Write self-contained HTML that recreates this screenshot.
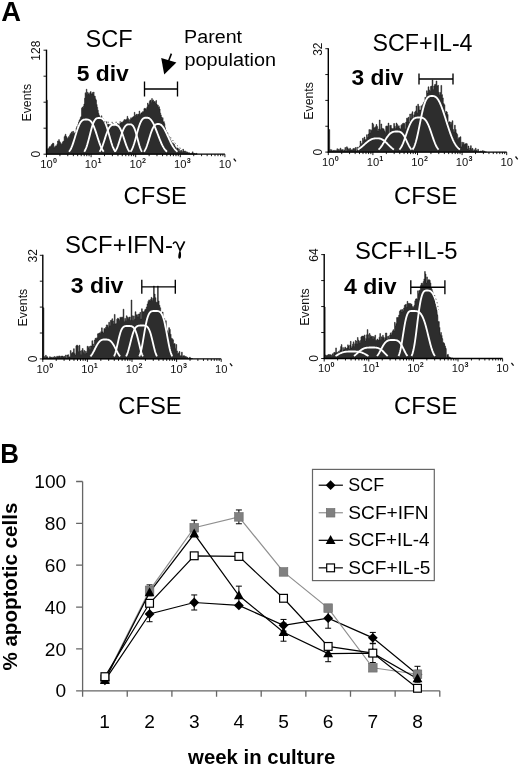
<!DOCTYPE html>
<html><head><meta charset="utf-8"><style>
html,body{margin:0;padding:0;background:#fff;}
svg{display:block;filter:blur(0.4px);}
</style></head><body>
<svg width="520" height="766" viewBox="0 0 520 766" font-family='"Liberation Sans", sans-serif'>
<rect width="520" height="766" fill="#fff"/>
<text x="1.21" y="20.6" font-size="27.5" font-weight="bold" textLength="19.76" lengthAdjust="spacingAndGlyphs">A</text>
<text x="0.13" y="462.7" font-size="27.5" font-weight="bold" textLength="18.72" lengthAdjust="spacingAndGlyphs">B</text>
<path d="M46.7,154.2L46.7,100.2L47.3,100.2L47.3,148.84L47.9,148.84L47.9,148.91L48.5,148.91L48.5,148.31L49.1,148.31L49.1,146.79L49.7,146.79L49.7,146.87L50.3,146.87L50.3,146.52L50.9,146.52L50.9,145.44L51.5,145.44L51.5,144.61L52.1,144.61L52.1,144.03L52.7,144.03L52.7,143L53.3,143L53.3,143.58L53.9,143.58L53.9,148.1L54.5,148.1L54.5,146.83L55.1,146.83L55.1,146.46L55.7,146.46L55.7,145.71L56.3,145.71L56.3,145.88L56.9,145.88L56.9,144.33L57.5,144.33L57.5,140.99L58.1,140.99L58.1,141.31L58.7,141.31L58.7,139.6L59.3,139.6L59.3,141.26L59.9,141.26L59.9,142.36L60.5,142.36L60.5,143.54L61.1,143.54L61.1,144.16L61.7,144.16L61.7,143.77L62.3,143.77L62.3,142.2L62.9,142.2L62.9,141.39L63.5,141.39L63.5,141.1L64.1,141.1L64.1,136.67L64.7,136.67L64.7,135.81L65.3,135.81L65.3,134.2L65.9,134.2L65.9,136.37L66.5,136.37L66.5,137.36L67.1,137.36L67.1,138.45L67.7,138.45L67.7,138.25L68.3,138.25L68.3,136.66L68.9,136.66L68.9,137.18L69.5,137.18L69.5,135.18L70.1,135.18L70.1,133.67L70.7,133.67L70.7,133.48L71.3,133.48L71.3,131.92L71.9,131.92L71.9,133.42L72.5,133.42L72.5,131.45L73.1,131.45L73.1,131.37L73.7,131.37L73.7,133.22L74.3,133.22L74.3,133.23L74.9,133.23L74.9,132.6L75.5,132.6L75.5,132.45L76.1,132.45L76.1,128.1L76.7,128.1L76.7,126.61L77.3,126.61L77.3,127.6L77.9,127.6L77.9,124.26L78.5,124.26L78.5,122.04L79.1,122.04L79.1,120.29L79.7,120.29L79.7,119.55L80.3,119.55L80.3,117.58L80.9,117.58L80.9,116.57L81.5,116.57L81.5,108.3L82.1,108.3L82.1,107.08L82.7,107.08L82.7,108.23L83.3,108.23L83.3,106.11L83.9,106.11L83.9,104L84.5,104L84.5,98.21L85.1,98.21L85.1,92.74L85.7,92.74L85.7,93.79L86.3,93.79L86.3,89.2L86.9,89.2L86.9,94.57L87.5,94.57L87.5,92.21L88.1,92.21L88.1,93.93L88.7,93.93L88.7,93.39L89.3,93.39L89.3,94.47L89.9,94.47L89.9,92.34L90.5,92.34L90.5,91.57L91.1,91.57L91.1,93.74L91.7,93.74L91.7,93.71L92.3,93.71L92.3,92.55L92.9,92.55L92.9,94.34L93.5,94.34L93.5,92L94.1,92L94.1,95.93L94.7,95.93L94.7,96.27L95.3,96.27L95.3,98.79L95.9,98.79L95.9,100.21L96.5,100.21L96.5,104.5L97.1,104.5L97.1,107.34L97.7,107.34L97.7,110.22L98.3,110.22L98.3,113.25L98.9,113.25L98.9,115.14L99.5,115.14L99.5,116.51L100.1,116.51L100.1,118.9L100.7,118.9L100.7,117.41L101.3,117.41L101.3,115.78L101.9,115.78L101.9,120.09L102.5,120.09L102.5,118.45L103.1,118.45L103.1,119.43L103.7,119.43L103.7,121.67L104.3,121.67L104.3,121.81L104.9,121.81L104.9,121.79L105.5,121.79L105.5,123.42L106.1,123.42L106.1,121.74L106.7,121.74L106.7,124.19L107.3,124.19L107.3,125.5L107.9,125.5L107.9,124.29L108.5,124.29L108.5,124.3L109.1,124.3L109.1,126.47L109.7,126.47L109.7,124.45L110.3,124.45L110.3,125.46L110.9,125.46L110.9,126.6L111.5,126.6L111.5,125.91L112.1,125.91L112.1,125.83L112.7,125.83L112.7,123.63L113.3,123.63L113.3,126.52L113.9,126.52L113.9,124.91L114.5,124.91L114.5,126.51L115.1,126.51L115.1,125.15L115.7,125.15L115.7,125.19L116.3,125.19L116.3,126.85L116.9,126.85L116.9,126.22L117.5,126.22L117.5,123.52L118.1,123.52L118.1,124.3L118.7,124.3L118.7,124.14L119.3,124.14L119.3,125.38L119.9,125.38L119.9,122.71L120.5,122.71L120.5,123.2L121.1,123.2L121.1,122.59L121.7,122.59L121.7,121.94L122.3,121.94L122.3,122.46L122.9,122.46L122.9,121.55L123.5,121.55L123.5,120.68L124.1,120.68L124.1,119.51L124.7,119.51L124.7,120.24L125.3,120.24L125.3,119.81L125.9,119.81L125.9,119.66L126.5,119.66L126.5,118.93L127.1,118.93L127.1,116.3L127.7,116.3L127.7,118.23L128.3,118.23L128.3,119.13L128.9,119.13L128.9,121.63L129.5,121.63L129.5,119.68L130.1,119.68L130.1,119.44L130.7,119.44L130.7,117.81L131.3,117.81L131.3,119.08L131.9,119.08L131.9,117.69L132.5,117.69L132.5,117.16L133.1,117.16L133.1,116.78L133.7,116.78L133.7,116.34L134.3,116.34L134.3,112.3L134.9,112.3L134.9,114.95L135.5,114.95L135.5,116.14L136.1,116.14L136.1,114.41L136.7,114.41L136.7,114.05L137.3,114.05L137.3,115.45L137.9,115.45L137.9,114.62L138.5,114.62L138.5,114.08L139.1,114.08L139.1,111L139.7,111L139.7,114.13L140.3,114.13L140.3,114.27L140.9,114.27L140.9,112.85L141.5,112.85L141.5,113.08L142.1,113.08L142.1,112.27L142.7,112.27L142.7,111.48L143.3,111.48L143.3,111.74L143.9,111.74L143.9,108.66L144.5,108.66L144.5,108.29L145.1,108.29L145.1,109.12L145.7,109.12L145.7,108.38L146.3,108.38L146.3,109.13L146.9,109.13L146.9,106.82L147.5,106.82L147.5,103.07L148.1,103.07L148.1,105.01L148.7,105.01L148.7,104.55L149.3,104.55L149.3,101.41L149.9,101.41L149.9,100.29L150.5,100.29L150.5,100.28L151.1,100.28L151.1,102.24L151.7,102.24L151.7,98.5L152.3,98.5L152.3,100.79L152.9,100.79L152.9,99.95L153.5,99.95L153.5,101.86L154.1,101.86L154.1,101.54L154.7,101.54L154.7,101.51L155.3,101.51L155.3,102.89L155.9,102.89L155.9,100.44L156.5,100.44L156.5,103.99L157.1,103.99L157.1,105.41L157.7,105.41L157.7,105.09L158.3,105.09L158.3,107.37L158.9,107.37L158.9,106.76L159.5,106.76L159.5,109L160.1,109L160.1,113.01L160.7,113.01L160.7,114.99L161.3,114.99L161.3,117.11L161.9,117.11L161.9,119.34L162.5,119.34L162.5,117.71L163.1,117.71L163.1,122.1L163.7,122.1L163.7,121.63L164.3,121.63L164.3,123.6L164.9,123.6L164.9,127.65L165.5,127.65L165.5,130.01L166.1,130.01L166.1,132.36L166.7,132.36L166.7,133.18L167.3,133.18L167.3,132.8L167.9,132.8L167.9,137.36L168.5,137.36L168.5,136.1L169.1,136.1L169.1,137.93L169.7,137.93L169.7,138.78L170.3,138.78L170.3,140.29L170.9,140.29L170.9,141.22L171.5,141.22L171.5,142.37L172.1,142.37L172.1,143.75L172.7,143.75L172.7,142.93L173.3,142.93L173.3,144.29L173.9,144.29L173.9,144.34L174.5,144.34L174.5,145.66L175.1,145.66L175.1,146.97L175.7,146.97L175.7,147.74L176.3,147.74L176.3,150.4L176.9,150.4L176.9,148.17L177.5,148.17L177.5,147.95L178.1,147.95L178.1,150.89L178.7,150.89L178.7,148.83L179.3,148.83L179.3,151.28L179.9,151.28L179.9,151.99L180.5,151.99L180.5,150.6L181.1,150.6L181.1,150.35L181.7,150.35L181.7,151.42L182.3,151.42L182.3,152.31L182.9,152.31L182.9,149.24L183.5,149.24L183.5,151.28L184.1,151.28L184.1,151.28L184.7,151.28L184.7,151.11L185.3,151.11L185.3,151.4L185.9,151.4L185.9,153.04L186.5,153.04L186.5,151.87L187.1,151.87L187.1,152.08L187.7,152.08L187.7,152.8L188.3,152.8L188.3,152.82L188.9,152.82L188.9,152.67L189.5,152.67L189.5,153.2L190.1,153.2L190.1,154L190.7,154L190.7,153.34L191.3,153.34L191.3,153.61L191.9,153.61L191.9,152.66L192.5,152.66L192.5,151.77L193.1,151.77L193.1,154L193.7,154L193.7,153.35L194.3,153.35L194.3,153.55L194.9,153.55L194.9,153.78L195.5,153.78L195.5,153.96L196.1,153.96L196.1,153.27L196.7,153.27L196.7,154L197.3,154L197,154.2 Z" fill="#2d2d2d" stroke="#151515" stroke-width="0.5"/>
<path d="M69,151.7 L69.5,151.06 L70.01,150.31 L70.51,149.45 L71.02,148.47 L71.52,147.37 L72.03,146.15 L72.53,144.82 L73.03,143.4 L73.54,141.89 L74.04,140.3 L74.55,138.67 L75.05,137.01 L75.56,135.34 L76.06,133.69 L76.57,132.07 L77.07,130.5 L77.57,129.01 L78.08,127.61 L78.58,126.31 L79.09,125.13 L79.59,124.06 L80.1,123.12 L80.6,122.31 L81.1,121.61 L81.61,121.04 L82.11,120.57 L82.62,120.21 L83.12,119.94 L83.63,119.75 L84.13,119.62 L84.63,119.55 L85.14,119.51 L85.64,119.5 L86.15,119.5 L86.65,119.5 L87.16,119.53 L87.66,119.57 L88.17,119.66 L88.67,119.81 L89.17,120.01 L89.68,120.3 L90.18,120.66 L90.69,121.13 L91.19,121.69 L91.7,122.37 L92.2,123.15 L92.7,124.05 L93.21,125.06 L93.71,126.19 L94.22,127.41 L94.72,128.74 L95.23,130.14 L95.73,131.62 L96.23,133.15 L96.74,134.73 L97.24,136.32 L97.75,137.91 L98.25,139.48 L98.76,141.02 L99.26,142.51 L99.77,143.92 L100.27,145.25 L100.77,146.49 L101.28,147.62 L101.78,148.65 L102.29,149.57 L102.79,150.39 L103.3,151.09 L103.8,151.7" fill="none" stroke="#fff" stroke-width="1.85"/>
<path d="M84.2,151.7 L84.7,150.95 L85.21,150.04 L85.71,148.97 L86.21,147.74 L86.72,146.35 L87.22,144.8 L87.72,143.1 L88.23,141.29 L88.73,139.38 L89.23,137.41 L89.74,135.41 L90.24,133.41 L90.74,131.45 L91.25,129.56 L91.75,127.77 L92.25,126.1 L92.75,124.59 L93.26,123.23 L93.76,122.05 L94.26,121.03 L94.77,120.19 L95.27,119.52 L95.77,118.99 L96.28,118.6 L96.78,118.32 L97.28,118.15 L97.79,118.05 L98.29,118.01 L98.79,118 L99.3,118 L99.8,118.01 L100.3,118.05 L100.81,118.13 L101.31,118.27 L101.81,118.48 L102.32,118.79 L102.82,119.2 L103.32,119.73 L103.83,120.38 L104.33,121.17 L104.83,122.1 L105.34,123.17 L105.84,124.38 L106.34,125.72 L106.85,127.18 L107.35,128.76 L107.85,130.42 L108.35,132.16 L108.86,133.94 L109.36,135.75 L109.86,137.56 L110.37,139.34 L110.87,141.06 L111.37,142.72 L111.88,144.27 L112.38,145.72 L112.88,147.05 L113.39,148.24 L113.89,149.3 L114.39,150.23 L114.9,151.03 L115.4,151.7" fill="none" stroke="#fff" stroke-width="1.85"/>
<path d="M99.5,151.7 L100,151.02 L100.5,150.23 L101,149.3 L101.5,148.26 L102,147.1 L102.5,145.82 L103,144.45 L103.5,143 L104,141.48 L104.5,139.93 L105,138.37 L105.5,136.81 L106,135.3 L106.5,133.84 L107,132.46 L107.5,131.18 L108,130.02 L108.5,128.97 L109,128.05 L109.5,127.27 L110,126.61 L110.5,126.07 L111,125.65 L111.5,125.33 L112,125.1 L112.5,124.95 L113,124.86 L113.5,124.82 L114,124.8 L114.5,124.8 L115,124.8 L115.5,124.83 L116,124.89 L116.5,124.99 L117,125.17 L117.5,125.42 L118,125.77 L118.5,126.22 L119,126.78 L119.5,127.46 L120,128.27 L120.5,129.21 L121,130.27 L121.5,131.45 L122,132.73 L122.5,134.1 L123,135.55 L123.5,137.06 L124,138.59 L124.5,140.14 L125,141.67 L125.5,143.16 L126,144.58 L126.5,145.93 L127,147.18 L127.5,148.32 L128,149.34 L128.5,150.25 L129,151.03 L129.5,151.7" fill="none" stroke="#fff" stroke-width="1.85"/>
<path d="M115,151.7 L115.5,151 L116,150.16 L116.5,149.2 L117,148.1 L117.5,146.88 L118,145.53 L118.5,144.08 L119,142.55 L119.5,140.95 L120,139.32 L120.5,137.68 L121,136.06 L121.5,134.49 L122,132.99 L122.5,131.58 L123,130.29 L123.5,129.12 L124,128.09 L124.5,127.19 L125,126.44 L125.5,125.82 L126,125.33 L126.5,124.95 L127,124.68 L127.5,124.49 L128,124.38 L128.5,124.32 L129,124.3 L129.5,124.3 L130,124.3 L130.5,124.34 L131,124.43 L131.5,124.6 L132,124.89 L132.5,125.31 L133,125.89 L133.5,126.64 L134,127.57 L134.5,128.69 L135,130 L135.5,131.48 L136,133.11 L136.5,134.86 L137,136.71 L137.5,138.6 L138,140.5 L138.5,142.36 L139,144.14 L139.5,145.81 L140,147.33 L140.5,148.69 L141,149.87 L141.5,150.87 L142,151.7" fill="none" stroke="#fff" stroke-width="1.85"/>
<path d="M130.5,151.7 L131,151.01 L131.5,150.19 L132,149.24 L132.5,148.14 L133,146.91 L133.5,145.54 L134,144.04 L134.5,142.42 L135,140.71 L135.5,138.93 L136,137.09 L136.5,135.23 L137,133.38 L137.5,131.55 L138,129.78 L138.5,128.09 L139,126.51 L139.5,125.04 L140,123.71 L140.5,122.51 L141,121.47 L141.5,120.57 L142,119.81 L142.5,119.2 L143,118.71 L143.5,118.34 L144,118.07 L144.5,117.89 L145,117.78 L145.5,117.72 L146,117.7 L146.5,117.7 L147,117.71 L147.5,117.75 L148,117.84 L148.5,117.99 L149,118.2 L149.5,118.49 L150,118.86 L150.5,119.31 L151,119.84 L151.5,120.46 L152,121.17 L152.5,121.96 L153,122.84 L153.5,123.79 L154,124.82 L154.5,125.92 L155,127.07 L155.5,128.28 L156,129.54 L156.5,130.82 L157,132.14 L157.5,133.46 L158,134.8 L158.5,136.13 L159,137.44 L159.5,138.73 L160,139.99 L160.5,141.21 L161,142.39 L161.5,143.51 L162,144.57 L162.5,145.58 L163,146.52 L163.5,147.39 L164,148.2 L164.5,148.94 L165,149.61 L165.5,150.22 L166,150.77 L166.5,151.26 L167,151.7" fill="none" stroke="#fff" stroke-width="1.85"/>
<path d="M144,151.7 L144.5,150.99 L145,150.16 L145.5,149.19 L146,148.08 L146.5,146.84 L147,145.49 L147.5,144.02 L148,142.47 L148.5,140.86 L149,139.21 L149.5,137.56 L150,135.92 L150.5,134.33 L151,132.81 L151.5,131.38 L152,130.07 L152.5,128.89 L153,127.84 L153.5,126.93 L154,126.17 L154.5,125.54 L155,125.04 L155.5,124.66 L156,124.38 L156.5,124.2 L157,124.08 L157.5,124.02 L158,124 L158.5,124 L159,124.03 L159.5,124.12 L160,124.28 L160.5,124.53 L161,124.86 L161.5,125.27 L162,125.77 L162.5,126.35 L163,127 L163.5,127.74 L164,128.54 L164.5,129.41 L165,130.33 L165.5,131.31 L166,132.32 L166.5,133.37 L167,134.45 L167.5,135.54 L168,136.64 L168.5,137.74 L169,138.84 L169.5,139.92 L170,140.97 L170.5,142 L171,143 L171.5,143.96 L172,144.87 L172.5,145.74 L173,146.56 L173.5,147.33 L174,148.05 L174.5,148.72 L175,149.34 L175.5,149.91 L176,150.42 L176.5,150.89 L177,151.32 L177.5,151.7" fill="none" stroke="#fff" stroke-width="1.85"/>
<line x1="46.5" y1="49.7" x2="46.5" y2="154.8" stroke="#000" stroke-width="1.4"/>
<path d="M43.5,154.2 H46.5 M43.5,128.2 H46.5 M43.5,102.2 H46.5 M43.5,76.2 H46.5 M43.5,50.2 H46.5 M46.5,154.2 v3 M59.93,154.2 v2 M67.78,154.2 v2 M73.35,154.2 v2 M77.67,154.2 v2 M81.21,154.2 v2 M84.19,154.2 v2 M86.78,154.2 v2 M89.06,154.2 v2 M91.1,154.2 v3 M104.53,154.2 v2 M112.38,154.2 v2 M117.95,154.2 v2 M122.27,154.2 v2 M125.81,154.2 v2 M128.79,154.2 v2 M131.38,154.2 v2 M133.66,154.2 v2 M135.7,154.2 v3 M149.13,154.2 v2 M156.98,154.2 v2 M162.55,154.2 v2 M166.87,154.2 v2 M170.41,154.2 v2 M173.39,154.2 v2 M175.98,154.2 v2 M178.26,154.2 v2 M180.3,154.2 v3 M193.73,154.2 v2 M201.58,154.2 v2 M207.15,154.2 v2 M211.47,154.2 v2 M215.01,154.2 v2 M217.99,154.2 v2 M220.58,154.2 v2 M222.86,154.2 v2 M224.9,154.2 v3" stroke="#000" stroke-width="0.9" fill="none"/>
<line x1="45.9" y1="154.2" x2="224.9" y2="154.2" stroke="#000" stroke-width="1.3"/>
<text x="46.5" y="167.8" font-size="11.2" text-anchor="middle" fill="#111">10</text>
<text x="52.9" y="163.1" font-size="7.2" font-weight="bold" fill="#111">0</text>
<text x="91.1" y="167.8" font-size="11.2" text-anchor="middle" fill="#111">10</text>
<text x="97.5" y="163.1" font-size="7.2" font-weight="bold" fill="#111">1</text>
<text x="135.7" y="167.8" font-size="11.2" text-anchor="middle" fill="#111">10</text>
<text x="142.1" y="163.1" font-size="7.2" font-weight="bold" fill="#111">2</text>
<text x="180.3" y="167.8" font-size="11.2" text-anchor="middle" fill="#111">10</text>
<text x="186.7" y="163.1" font-size="7.2" font-weight="bold" fill="#111">3</text>
<text x="224.9" y="167.8" font-size="11.2" text-anchor="middle" fill="#111">10</text>
<path d="M233.7,158.6 l2.2,2.8" stroke="#111" stroke-width="1.3" fill="none"/>
<text transform="translate(40.3,50.7) rotate(-90)" font-size="12" text-anchor="middle" fill="#111">128</text>
<text transform="translate(40.3,154.2) rotate(-90)" font-size="12" text-anchor="middle" fill="#111">0</text>
<text transform="translate(31,102.7) rotate(-90)" font-size="12.3" text-anchor="middle" fill="#111">Events</text>
<path d="M144.5,81.5 V96.5 M177.5,81.5 V96.5 M144.5,89 H177.5" stroke="#000" stroke-width="1.35" fill="none"/>
<path d="M103.5,121.8 L108,122.2 L113,122.4 L118,122.2 L121,121.6" fill="none" stroke="#444" stroke-width="0.85" stroke-dasharray="1.4,2.6"/>
<path d="M170.5,137.2 L173.5,141.3 L176.5,144.8 L179.5,147.6 L182.5,149.6 L186,151" fill="none" stroke="#444" stroke-width="0.85" stroke-dasharray="1.2,2.3"/>
<text x="85.63" y="46.5" font-size="23" textLength="47.05" lengthAdjust="spacingAndGlyphs">SCF</text>
<text x="76.71" y="80.8" font-size="22.5" font-weight="bold" textLength="52.08" lengthAdjust="spacingAndGlyphs">5 div</text>
<text x="123.54" y="204.3" font-size="23" textLength="63.41" lengthAdjust="spacingAndGlyphs">CFSE</text>
<path d="M328.9,152.1L328.9,129.6L329.7,129.6L329.7,149.41L330.5,149.41L330.5,150.41L331.3,150.41L331.3,149.75L332.1,149.75L332.1,151.1L332.9,151.1L332.9,150.58L333.7,150.58L333.7,150.31L334.5,150.31L334.5,150.76L335.3,150.76L335.3,150.43L336.1,150.43L336.1,150.45L336.9,150.45L336.9,148.71L337.7,148.71L337.7,150.16L338.5,150.16L338.5,149.32L339.3,149.32L339.3,150.58L340.1,150.58L340.1,148.13L340.9,148.13L340.9,149.79L341.7,149.79L341.7,149.8L342.5,149.8L342.5,149.62L343.3,149.62L343.3,151.02L344.1,151.02L344.1,149.99L344.9,149.99L344.9,147.5L345.7,147.5L345.7,150.94L346.5,150.94L346.5,146.8L347.3,146.8L347.3,147.89L348.1,147.89L348.1,149.28L348.9,149.28L348.9,149.19L349.7,149.19L349.7,148.28L350.5,148.28L350.5,150.07L351.3,150.07L351.3,149.78L352.1,149.78L352.1,149.7L352.9,149.7L352.9,148.54L353.7,148.54L353.7,148.38L354.5,148.38L354.5,149.58L355.3,149.58L355.3,147.49L356.1,147.49L356.1,150.99L356.9,150.99L356.9,147.26L357.7,147.26L357.7,148.64L358.5,148.64L358.5,147.57L359.3,147.57L359.3,145.98L360.1,145.98L360.1,141.09L360.9,141.09L360.9,144.35L361.7,144.35L361.7,143.17L362.5,143.17L362.5,138.27L363.3,138.27L363.3,140.13L364.1,140.13L364.1,137.06L364.9,137.06L364.9,139.77L365.7,139.77L365.7,139.48L366.5,139.48L366.5,134.73L367.3,134.73L367.3,137.29L368.1,137.29L368.1,134.09L368.9,134.09L368.9,129.58L369.7,129.58L369.7,132.99L370.5,132.99L370.5,129.75L371.3,129.75L371.3,130.49L372.1,130.49L372.1,123L372.9,123L372.9,124.42L373.7,124.42L373.7,127.64L374.5,127.64L374.5,127.57L375.3,127.57L375.3,126.67L376.1,126.67L376.1,124.49L376.9,124.49L376.9,126.59L377.7,126.59L377.7,131.03L378.5,131.03L378.5,129.05L379.3,129.05L379.3,120L380.1,120L380.1,129.61L380.9,129.61L380.9,123.96L381.7,123.96L381.7,128.16L382.5,128.16L382.5,128.75L383.3,128.75L383.3,128.85L384.1,128.85L384.1,130.82L384.9,130.82L384.9,132.17L385.7,132.17L385.7,126.28L386.5,126.28L386.5,125.91L387.3,125.91L387.3,126.26L388.1,126.26L388.1,123.1L388.9,123.1L388.9,134.35L389.7,134.35L389.7,125.54L390.5,125.54L390.5,125.31L391.3,125.31L391.3,128.24L392.1,128.24L392.1,128.74L392.9,128.74L392.9,128.56L393.7,128.56L393.7,123.48L394.5,123.48L394.5,126.22L395.3,126.22L395.3,128.28L396.1,128.28L396.1,123.02L396.9,123.02L396.9,124.51L397.7,124.51L397.7,126.42L398.5,126.42L398.5,125.83L399.3,125.83L399.3,128.36L400.1,128.36L400.1,129.08L400.9,129.08L400.9,125.13L401.7,125.13L401.7,124.39L402.5,124.39L402.5,123.53L403.3,123.53L403.3,123.15L404.1,123.15L404.1,123.39L404.9,123.39L404.9,128.8L405.7,128.8L405.7,122.04L406.5,122.04L406.5,118.2L407.3,118.2L407.3,118.27L408.1,118.27L408.1,117.23L408.9,117.23L408.9,122.37L409.7,122.37L409.7,114L410.5,114L410.5,118.62L411.3,118.62L411.3,113.83L412.1,113.83L412.1,111.72L412.9,111.72L412.9,118.46L413.7,118.46L413.7,114.85L414.5,114.85L414.5,112.24L415.3,112.24L415.3,111.03L416.1,111.03L416.1,105.97L416.9,105.97L416.9,112.7L417.7,112.7L417.7,104.2L418.5,104.2L418.5,106.28L419.3,106.28L419.3,109.88L420.1,109.88L420.1,110.08L420.9,110.08L420.9,105.81L421.7,105.81L421.7,111.89L422.5,111.89L422.5,104.41L423.3,104.41L423.3,102.66L424.1,102.66L424.1,101.56L424.9,101.56L424.9,97.32L425.7,97.32L425.7,98.14L426.5,98.14L426.5,90.76L427.3,90.76L427.3,93.09L428.1,93.09L428.1,86.84L428.9,86.84L428.9,89.97L429.7,89.97L429.7,91.34L430.5,91.34L430.5,86.45L431.3,86.45L431.3,86.07L432.1,86.07L432.1,80L432.9,80L432.9,89.51L433.7,89.51L433.7,86.12L434.5,86.12L434.5,84.61L435.3,84.61L435.3,84.23L436.1,84.23L436.1,81L436.9,81L436.9,86L437.7,86L437.7,85.37L438.5,85.37L438.5,92.35L439.3,92.35L439.3,94.67L440.1,94.67L440.1,92.48L440.9,92.48L440.9,85.4L441.7,85.4L441.7,94.63L442.5,94.63L442.5,97.89L443.3,97.89L443.3,103.53L444.1,103.53L444.1,104.74L444.9,104.74L444.9,113.02L445.7,113.02L445.7,111.33L446.5,111.33L446.5,112L447.3,112L447.3,114.56L448.1,114.56L448.1,122.51L448.9,122.51L448.9,121.71L449.7,121.71L449.7,122.09L450.5,122.09L450.5,124.49L451.3,124.49L451.3,122.56L452.1,122.56L452.1,120.69L452.9,120.69L452.9,129.61L453.7,129.61L453.7,131.76L454.5,131.76L454.5,125.2L455.3,125.2L455.3,129.54L456.1,129.54L456.1,132.98L456.9,132.98L456.9,134.48L457.7,134.48L457.7,139.34L458.5,139.34L458.5,137.74L459.3,137.74L459.3,137.55L460.1,137.55L460.1,136.73L460.9,136.73L460.9,146.72L461.7,146.72L461.7,142.14L462.5,142.14L462.5,144.47L463.3,144.47L463.3,142.56L464.1,142.56L464.1,144.59L464.9,144.59L464.9,143.95L465.7,143.95L465.7,143.42L466.5,143.42L466.5,143.73L467.3,143.73L467.3,148.9L468.1,148.9L468.1,146.03L468.9,146.03L468.9,150L469.7,150L469.7,148.08L470.5,148.08L470.5,145.68L471.3,145.68L471.3,149.23L472.1,149.23L472.1,148.36L472.9,148.36L472.9,151.07L473.7,151.07L473.7,149.69L474.5,149.69L474.5,150.59L475.3,150.59L475.3,148.21L476.1,148.21L476.1,150.19L476.9,150.19L476.9,151.22L477.7,151.22L477.7,149.27L478.5,149.27L478.5,151.35L479.3,151.35L479.3,151.9L480.1,151.9L480.1,151.07L480.9,151.07L480.9,151.15L481.7,151.15L481.7,151.54L482.5,151.54L482.5,150.62L483.3,150.62L483.3,151.9L484.1,151.9L484.1,151.21L484.9,151.21L484.9,151.9L485.7,151.9L485.7,151.9L486.5,151.9L486,152.1 Z" fill="#2d2d2d" stroke="#151515" stroke-width="0.5"/>
<path d="M357.7,149.6 L358.2,149.31 L358.71,149 L359.21,148.67 L359.72,148.33 L360.22,147.96 L360.72,147.58 L361.23,147.18 L361.73,146.77 L362.24,146.34 L362.74,145.91 L363.25,145.47 L363.75,145.02 L364.25,144.57 L364.76,144.12 L365.26,143.67 L365.77,143.23 L366.27,142.79 L366.77,142.37 L367.28,141.95 L367.78,141.56 L368.29,141.18 L368.79,140.82 L369.3,140.48 L369.8,140.17 L370.3,139.87 L370.81,139.61 L371.31,139.37 L371.82,139.15 L372.32,138.97 L372.82,138.8 L373.33,138.67 L373.83,138.55 L374.34,138.47 L374.84,138.4 L375.35,138.35 L375.85,138.32 L376.35,138.3 L376.86,138.3 L377.36,138.3 L377.87,138.31 L378.37,138.34 L378.88,138.39 L379.38,138.47 L379.88,138.58 L380.39,138.71 L380.89,138.88 L381.4,139.08 L381.9,139.31 L382.4,139.58 L382.91,139.88 L383.41,140.21 L383.92,140.58 L384.42,140.97 L384.93,141.39 L385.43,141.83 L385.93,142.3 L386.44,142.78 L386.94,143.27 L387.45,143.78 L387.95,144.29 L388.45,144.8 L388.96,145.31 L389.46,145.81 L389.97,146.31 L390.47,146.79 L390.98,147.26 L391.48,147.7 L391.98,148.13 L392.49,148.53 L392.99,148.91 L393.5,149.27 L394,149.6" fill="none" stroke="#fff" stroke-width="1.85"/>
<path d="M378.5,149.6 L379,149.15 L379.5,148.64 L380,148.09 L380.5,147.49 L381,146.84 L381.5,146.14 L382,145.41 L382.5,144.64 L383,143.84 L383.5,143.02 L384,142.19 L384.5,141.35 L385,140.51 L385.5,139.69 L386,138.88 L386.5,138.09 L387,137.34 L387.5,136.62 L388,135.94 L388.5,135.31 L389,134.73 L389.5,134.2 L390,133.72 L390.5,133.3 L391,132.93 L391.5,132.61 L392,132.34 L392.5,132.12 L393,131.93 L393.5,131.79 L394,131.68 L394.5,131.61 L395,131.55 L395.5,131.52 L396,131.51 L396.5,131.5 L397,131.5 L397.5,131.5 L398,131.51 L398.5,131.55 L399,131.61 L399.5,131.72 L400,131.88 L400.5,132.1 L401,132.39 L401.5,132.76 L402,133.21 L402.5,133.74 L403,134.36 L403.5,135.06 L404,135.85 L404.5,136.71 L405,137.64 L405.5,138.63 L406,139.66 L406.5,140.72 L407,141.79 L407.5,142.85 L408,143.9 L408.5,144.91 L409,145.87 L409.5,146.77 L410,147.59 L410.5,148.34 L411,149.01 L411.5,149.6" fill="none" stroke="#fff" stroke-width="1.85"/>
<path d="M399.4,149.6 L399.9,149.02 L400.41,148.34 L400.91,147.57 L401.41,146.71 L401.91,145.74 L402.42,144.68 L402.92,143.53 L403.42,142.29 L403.92,140.98 L404.43,139.6 L404.93,138.17 L405.43,136.71 L405.93,135.22 L406.44,133.73 L406.94,132.25 L407.44,130.8 L407.94,129.38 L408.45,128.02 L408.95,126.72 L409.45,125.5 L409.95,124.37 L410.46,123.32 L410.96,122.37 L411.46,121.52 L411.96,120.76 L412.47,120.1 L412.97,119.53 L413.47,119.05 L413.97,118.65 L414.48,118.32 L414.98,118.07 L415.48,117.87 L415.98,117.73 L416.49,117.63 L416.99,117.56 L417.49,117.52 L417.99,117.51 L418.5,117.5 L419,117.5 L419.5,117.5 L420.01,117.51 L420.51,117.52 L421.01,117.56 L421.51,117.63 L422.02,117.73 L422.52,117.87 L423.02,118.07 L423.52,118.32 L424.03,118.65 L424.53,119.05 L425.03,119.53 L425.53,120.1 L426.04,120.76 L426.54,121.52 L427.04,122.37 L427.54,123.32 L428.05,124.37 L428.55,125.5 L429.05,126.72 L429.55,128.02 L430.06,129.38 L430.56,130.8 L431.06,132.25 L431.56,133.73 L432.07,135.22 L432.57,136.71 L433.07,138.17 L433.57,139.6 L434.08,140.98 L434.58,142.29 L435.08,143.53 L435.58,144.68 L436.09,145.74 L436.59,146.71 L437.09,147.57 L437.59,148.34 L438.1,149.02 L438.6,149.6" fill="none" stroke="#fff" stroke-width="1.85"/>
<path d="M412.5,149.6 L413,148.89 L413.5,148.04 L414,147.04 L414.5,145.87 L415,144.52 L415.5,143.01 L416,141.31 L416.5,139.45 L417,137.43 L417.5,135.27 L418,132.98 L418.5,130.59 L419,128.13 L419.5,125.62 L420,123.09 L420.5,120.58 L421,118.11 L421.5,115.7 L422,113.39 L422.5,111.19 L423,109.13 L423.5,107.22 L424,105.46 L424.5,103.87 L425,102.45 L425.5,101.2 L426,100.12 L426.5,99.19 L427,98.41 L427.5,97.77 L428,97.26 L428.5,96.85 L429,96.55 L429.5,96.33 L430,96.18 L430.5,96.09 L431,96.03 L431.5,96.01 L432,96 L432.5,96 L433,96.01 L433.5,96.06 L434,96.16 L434.5,96.32 L435,96.55 L435.5,96.85 L436,97.23 L436.5,97.68 L437,98.22 L437.5,98.84 L438,99.55 L438.5,100.34 L439,101.22 L439.5,102.17 L440,103.21 L440.5,104.33 L441,105.51 L441.5,106.77 L442,108.09 L442.5,109.47 L443,110.89 L443.5,112.37 L444,113.88 L444.5,115.43 L445,117 L445.5,118.59 L446,120.18 L446.5,121.78 L447,123.38 L447.5,124.96 L448,126.53 L448.5,128.07 L449,129.58 L449.5,131.06 L450,132.5 L450.5,133.89 L451,135.23 L451.5,136.51 L452,137.75 L452.5,138.92 L453,140.04 L453.5,141.09 L454,142.09 L454.5,143.02 L455,143.89 L455.5,144.7 L456,145.45 L456.5,146.15 L457,146.79 L457.5,147.38 L458,147.91 L458.5,148.4 L459,148.84 L459.5,149.24 L460,149.6" fill="none" stroke="#fff" stroke-width="1.85"/>
<line x1="328.3" y1="48.2" x2="328.3" y2="152.7" stroke="#000" stroke-width="1.4"/>
<path d="M325.3,152.1 H328.3 M325.3,126.25 H328.3 M325.3,100.4 H328.3 M325.3,74.55 H328.3 M325.3,48.7 H328.3 M328.3,152.1 v3 M341.73,152.1 v2 M349.58,152.1 v2 M355.15,152.1 v2 M359.47,152.1 v2 M363.01,152.1 v2 M365.99,152.1 v2 M368.58,152.1 v2 M370.86,152.1 v2 M372.9,152.1 v3 M386.33,152.1 v2 M394.18,152.1 v2 M399.75,152.1 v2 M404.07,152.1 v2 M407.61,152.1 v2 M410.59,152.1 v2 M413.18,152.1 v2 M415.46,152.1 v2 M417.5,152.1 v3 M430.93,152.1 v2 M438.78,152.1 v2 M444.35,152.1 v2 M448.67,152.1 v2 M452.21,152.1 v2 M455.19,152.1 v2 M457.78,152.1 v2 M460.06,152.1 v2 M462.1,152.1 v3 M475.53,152.1 v2 M483.38,152.1 v2 M488.95,152.1 v2 M493.27,152.1 v2 M496.81,152.1 v2 M499.79,152.1 v2 M502.38,152.1 v2 M504.66,152.1 v2 M506.7,152.1 v3" stroke="#000" stroke-width="0.9" fill="none"/>
<line x1="327.7" y1="152.1" x2="506.7" y2="152.1" stroke="#000" stroke-width="1.3"/>
<text x="328.3" y="165.7" font-size="11.2" text-anchor="middle" fill="#111">10</text>
<text x="334.7" y="161" font-size="7.2" font-weight="bold" fill="#111">0</text>
<text x="372.9" y="165.7" font-size="11.2" text-anchor="middle" fill="#111">10</text>
<text x="379.3" y="161" font-size="7.2" font-weight="bold" fill="#111">1</text>
<text x="417.5" y="165.7" font-size="11.2" text-anchor="middle" fill="#111">10</text>
<text x="423.9" y="161" font-size="7.2" font-weight="bold" fill="#111">2</text>
<text x="462.1" y="165.7" font-size="11.2" text-anchor="middle" fill="#111">10</text>
<text x="468.5" y="161" font-size="7.2" font-weight="bold" fill="#111">3</text>
<text x="506.7" y="165.7" font-size="11.2" text-anchor="middle" fill="#111">10</text>
<path d="M515.5,156.5 l2.2,2.8" stroke="#111" stroke-width="1.3" fill="none"/>
<text transform="translate(322.1,49.2) rotate(-90)" font-size="12" text-anchor="middle" fill="#111">32</text>
<text transform="translate(322.1,152.1) rotate(-90)" font-size="12" text-anchor="middle" fill="#111">0</text>
<text transform="translate(312.8,100.9) rotate(-90)" font-size="12.3" text-anchor="middle" fill="#111">Events</text>
<path d="M419,73.5 V84.5 M453,73.5 V84.5 M419,79 H453" stroke="#000" stroke-width="1.35" fill="none"/>
<text x="372.54" y="51.2" font-size="23" textLength="100.01" lengthAdjust="spacingAndGlyphs">SCF+IL-4</text>
<text x="351.49" y="84.6" font-size="22.5" font-weight="bold" textLength="51.9" lengthAdjust="spacingAndGlyphs">3 div</text>
<text x="394.04" y="204.3" font-size="23" textLength="63.21" lengthAdjust="spacingAndGlyphs">CFSE</text>
<path d="M43.1,358.9L43.1,307.8L43.9,307.8L43.9,356.6L44.7,356.6L44.7,357.78L45.5,357.78L45.5,355.31L46.3,355.31L46.3,356.77L47.1,356.77L47.1,356.83L47.9,356.83L47.9,358.7L48.7,358.7L48.7,357.94L49.5,357.94L49.5,356.72L50.3,356.72L50.3,357.31L51.1,357.31L51.1,357.33L51.9,357.33L51.9,357.97L52.7,357.97L52.7,356.94L53.5,356.94L53.5,358.35L54.3,358.35L54.3,356.49L55.1,356.49L55.1,357.31L55.9,357.31L55.9,357.19L56.7,357.19L56.7,356.21L57.5,356.21L57.5,357L58.3,357L58.3,356.19L59.1,356.19L59.1,355.94L59.9,355.94L59.9,357.18L60.7,357.18L60.7,356.11L61.5,356.11L61.5,356.25L62.3,356.25L62.3,356.06L63.1,356.06L63.1,356.9L63.9,356.9L63.9,356.28L64.7,356.28L64.7,357.16L65.5,357.16L65.5,354.98L66.3,354.98L66.3,357.99L67.1,357.99L67.1,355.11L67.9,355.11L67.9,354.76L68.7,354.76L68.7,357.05L69.5,357.05L69.5,356.84L70.3,356.84L70.3,350.6L71.1,350.6L71.1,353.53L71.9,353.53L71.9,352.77L72.7,352.77L72.7,352.17L73.5,352.17L73.5,348.7L74.3,348.7L74.3,353.39L75.1,353.39L75.1,354.89L75.9,354.89L75.9,345.86L76.7,345.86L76.7,345L77.5,345L77.5,345.89L78.3,345.89L78.3,351.45L79.1,351.45L79.1,345.26L79.9,345.26L79.9,350.92L80.7,350.92L80.7,354.45L81.5,354.45L81.5,350.52L82.3,350.52L82.3,348.53L83.1,348.53L83.1,352.17L83.9,352.17L83.9,350.44L84.7,350.44L84.7,353.51L85.5,353.51L85.5,351.35L86.3,351.35L86.3,352.97L87.1,352.97L87.1,346.26L87.9,346.26L87.9,347.81L88.7,347.81L88.7,346.56L89.5,346.56L89.5,349.24L90.3,349.24L90.3,345.94L91.1,345.94L91.1,346.11L91.9,346.11L91.9,340.73L92.7,340.73L92.7,344.02L93.5,344.02L93.5,346.09L94.3,346.09L94.3,340.07L95.1,340.07L95.1,338.29L95.9,338.29L95.9,338.56L96.7,338.56L96.7,337.74L97.5,337.74L97.5,333.85L98.3,333.85L98.3,333.59L99.1,333.59L99.1,332.88L99.9,332.88L99.9,333.28L100.7,333.28L100.7,331.73L101.5,331.73L101.5,327.85L102.3,327.85L102.3,331.72L103.1,331.72L103.1,332.96L103.9,332.96L103.9,328.54L104.7,328.54L104.7,328.74L105.5,328.74L105.5,327.35L106.3,327.35L106.3,324.9L107.1,324.9L107.1,325.17L107.9,325.17L107.9,327.2L108.7,327.2L108.7,322.27L109.5,322.27L109.5,325.86L110.3,325.86L110.3,320.59L111.1,320.59L111.1,320.21L111.9,320.21L111.9,318.76L112.7,318.76L112.7,320.94L113.5,320.94L113.5,323.68L114.3,323.68L114.3,314.42L115.1,314.42L115.1,324.02L115.9,324.02L115.9,323.43L116.7,323.43L116.7,319.18L117.5,319.18L117.5,318.15L118.3,318.15L118.3,319.05L119.1,319.05L119.1,320.21L119.9,320.21L119.9,317.22L120.7,317.22L120.7,318.12L121.5,318.12L121.5,317.06L122.3,317.06L122.3,317.25L123.1,317.25L123.1,309.2L123.9,309.2L123.9,321.45L124.7,321.45L124.7,318.44L125.5,318.44L125.5,320.39L126.3,320.39L126.3,315.8L127.1,315.8L127.1,317.24L127.9,317.24L127.9,318.41L128.7,318.41L128.7,317.32L129.5,317.32L129.5,316.96L130.3,316.96L130.3,320.32L131.1,320.32L131.1,300L131.9,300L131.9,315.77L132.7,315.77L132.7,320.3L133.5,320.3L133.5,315.9L134.3,315.9L134.3,319.31L135.1,319.31L135.1,311.73L135.9,311.73L135.9,314.75L136.7,314.75L136.7,314.67L137.5,314.67L137.5,316.84L138.3,316.84L138.3,314.08L139.1,314.08L139.1,314.02L139.9,314.02L139.9,312.36L140.7,312.36L140.7,319.09L141.5,319.09L141.5,308.76L142.3,308.76L142.3,311.43L143.1,311.43L143.1,312.12L143.9,312.12L143.9,311.5L144.7,311.5L144.7,309.72L145.5,309.72L145.5,308.99L146.3,308.99L146.3,306.96L147.1,306.96L147.1,303.94L147.9,303.94L147.9,301.41L148.7,301.41L148.7,299.91L149.5,299.91L149.5,301L150.3,301L150.3,299.57L151.1,299.57L151.1,297.39L151.9,297.39L151.9,300.18L152.7,300.18L152.7,298.29L153.5,298.29L153.5,286L154.3,286L154.3,294.08L155.1,294.08L155.1,297.66L155.9,297.66L155.9,302.2L156.7,302.2L156.7,302.36L157.5,302.36L157.5,286L158.3,286L158.3,300.98L159.1,300.98L159.1,305.3L159.9,305.3L159.9,307.74L160.7,307.74L160.7,313.09L161.5,313.09L161.5,314.42L162.3,314.42L162.3,312.09L163.1,312.09L163.1,318.83L163.9,318.83L163.9,318.47L164.7,318.47L164.7,327.23L165.5,327.23L165.5,320.78L166.3,320.78L166.3,329.75L167.1,329.75L167.1,331.23L167.9,331.23L167.9,332.69L168.7,332.69L168.7,327.67L169.5,327.67L169.5,329.39L170.3,329.39L170.3,334.29L171.1,334.29L171.1,338.21L171.9,338.21L171.9,338.75L172.7,338.75L172.7,339.84L173.5,339.84L173.5,343.64L174.3,343.64L174.3,343.58L175.1,343.58L175.1,348.14L175.9,348.14L175.9,344.49L176.7,344.49L176.7,350.91L177.5,350.91L177.5,353.8L178.3,353.8L178.3,352.89L179.1,352.89L179.1,351.48L179.9,351.48L179.9,355.67L180.7,355.67L180.7,355.82L181.5,355.82L181.5,352.18L182.3,352.18L182.3,356.14L183.1,356.14L183.1,355.77L183.9,355.77L183.9,355.7L184.7,355.7L184.7,356.62L185.5,356.62L185.5,356.46L186.3,356.46L186.3,357.22L187.1,357.22L187.1,357.37L187.9,357.37L187.9,358.5L188.7,358.5L188.7,358.05L189.5,358.05L189.5,357.24L190.3,357.24L190.3,358.28L191.1,358.28L191.1,358.45L191.9,358.45L191.9,358.51L192.7,358.51L192,358.9 Z" fill="#2d2d2d" stroke="#151515" stroke-width="0.5"/>
<path d="M90.4,356.4 L90.91,355.83 L91.41,355.18 L91.92,354.46 L92.42,353.67 L92.93,352.81 L93.43,351.9 L93.94,350.95 L94.44,349.96 L94.95,348.96 L95.45,347.96 L95.96,346.98 L96.46,346.02 L96.97,345.11 L97.47,344.25 L97.98,343.46 L98.48,342.73 L98.99,342.09 L99.49,341.52 L100,341.04 L100.5,340.63 L101.01,340.3 L101.51,340.03 L102.02,339.84 L102.52,339.69 L103.03,339.6 L103.53,339.54 L104.04,339.51 L104.54,339.5 L105.05,339.5 L105.55,339.5 L106.06,339.51 L106.56,339.53 L107.07,339.57 L107.57,339.63 L108.08,339.74 L108.58,339.89 L109.09,340.09 L109.59,340.34 L110.1,340.67 L110.6,341.06 L111.11,341.54 L111.61,342.08 L112.12,342.71 L112.62,343.41 L113.13,344.19 L113.63,345.03 L114.14,345.93 L114.64,346.87 L115.15,347.85 L115.65,348.85 L116.16,349.85 L116.66,350.84 L117.17,351.8 L117.67,352.73 L118.18,353.6 L118.68,354.41 L119.19,355.15 L119.69,355.82 L120.2,356.4" fill="none" stroke="#fff" stroke-width="1.85"/>
<path d="M114,356.4 L114.5,355.36 L115,354.06 L115.5,352.5 L116,350.71 L116.5,348.72 L117,346.58 L117.5,344.34 L118,342.08 L118.5,339.85 L119,337.71 L119.5,335.72 L120,333.9 L120.5,332.29 L121,330.89 L121.5,329.71 L122,328.74 L122.5,327.96 L123,327.35 L123.5,326.89 L124,326.56 L124.5,326.33 L125,326.18 L125.5,326.09 L126,326.04 L126.5,326.01 L127,326 L127.5,326 L128,326 L128.5,326 L129,326 L129.5,326.01 L130,326.03 L130.5,326.07 L131,326.14 L131.5,326.25 L132,326.43 L132.5,326.68 L133,327.03 L133.5,327.5 L134,328.1 L134.5,328.86 L135,329.79 L135.5,330.89 L136,332.19 L136.5,333.68 L137,335.34 L137.5,337.17 L138,339.13 L138.5,341.18 L139,343.29 L139.5,345.39 L140,347.45 L140.5,349.41 L141,351.21 L141.5,352.83 L142,354.25 L142.5,355.43 L143,356.4" fill="none" stroke="#fff" stroke-width="1.85"/>
<path d="M126,356.4 L126.5,355.49 L127,354.39 L127.5,353.09 L128,351.59 L128.5,349.92 L129,348.11 L129.5,346.18 L130,344.19 L130.5,342.18 L131,340.18 L131.5,338.25 L132,336.41 L132.5,334.7 L133,333.13 L133.5,331.73 L134,330.5 L134.5,329.43 L135,328.53 L135.5,327.78 L136,327.17 L136.5,326.69 L137,326.32 L137.5,326.04 L138,325.84 L138.5,325.7 L139,325.61 L139.5,325.55 L140,325.52 L140.5,325.51 L141,325.5 L141.5,325.5 L142,325.5 L142.5,325.5 L143,325.5 L143.5,325.51 L144,325.53 L144.5,325.57 L145,325.64 L145.5,325.76 L146,325.93 L146.5,326.19 L147,326.55 L147.5,327.03 L148,327.64 L148.5,328.42 L149,329.36 L149.5,330.5 L150,331.82 L150.5,333.33 L151,335.03 L151.5,336.89 L152,338.88 L152.5,340.98 L153,343.12 L153.5,345.26 L154,347.35 L154.5,349.33 L155,351.16 L155.5,352.8 L156,354.23 L156.5,355.43 L157,356.4" fill="none" stroke="#fff" stroke-width="1.85"/>
<path d="M139.2,356.4 L139.7,355.33 L140.2,353.96 L140.7,352.28 L141.21,350.28 L141.71,347.99 L142.21,345.43 L142.71,342.65 L143.21,339.71 L143.71,336.7 L144.22,333.67 L144.72,330.7 L145.22,327.86 L145.72,325.19 L146.22,322.75 L146.72,320.55 L147.22,318.62 L147.73,316.95 L148.23,315.54 L148.73,314.38 L149.23,313.45 L149.73,312.72 L150.23,312.16 L150.73,311.75 L151.24,311.45 L151.74,311.26 L152.24,311.13 L152.74,311.06 L153.24,311.02 L153.74,311.01 L154.25,311 L154.75,311 L155.25,311 L155.75,311 L156.25,311 L156.75,311.01 L157.25,311.04 L157.76,311.09 L158.26,311.18 L158.76,311.31 L159.26,311.52 L159.76,311.81 L160.26,312.2 L160.77,312.71 L161.27,313.37 L161.77,314.2 L162.27,315.21 L162.77,316.43 L163.27,317.85 L163.77,319.5 L164.28,321.37 L164.78,323.46 L165.28,325.75 L165.78,328.21 L166.28,330.82 L166.78,333.53 L167.28,336.29 L167.79,339.05 L168.29,341.76 L168.79,344.36 L169.29,346.79 L169.79,349.02 L170.29,351.01 L170.8,352.75 L171.3,354.22 L171.8,355.43 L172.3,356.4" fill="none" stroke="#fff" stroke-width="1.85"/>
<line x1="42.8" y1="254.8" x2="42.8" y2="359.5" stroke="#000" stroke-width="1.4"/>
<path d="M39.8,358.9 H42.8 M39.8,333 H42.8 M39.8,307.1 H42.8 M39.8,281.2 H42.8 M39.8,255.3 H42.8 M42.8,358.9 v3 M56.23,358.9 v2 M64.08,358.9 v2 M69.65,358.9 v2 M73.97,358.9 v2 M77.51,358.9 v2 M80.49,358.9 v2 M83.08,358.9 v2 M85.36,358.9 v2 M87.4,358.9 v3 M100.83,358.9 v2 M108.68,358.9 v2 M114.25,358.9 v2 M118.57,358.9 v2 M122.11,358.9 v2 M125.09,358.9 v2 M127.68,358.9 v2 M129.96,358.9 v2 M132,358.9 v3 M145.43,358.9 v2 M153.28,358.9 v2 M158.85,358.9 v2 M163.17,358.9 v2 M166.71,358.9 v2 M169.69,358.9 v2 M172.28,358.9 v2 M174.56,358.9 v2 M176.6,358.9 v3 M190.03,358.9 v2 M197.88,358.9 v2 M203.45,358.9 v2 M207.77,358.9 v2 M211.31,358.9 v2 M214.29,358.9 v2 M216.88,358.9 v2 M219.16,358.9 v2 M221.2,358.9 v3" stroke="#000" stroke-width="0.9" fill="none"/>
<line x1="42.2" y1="358.9" x2="221.2" y2="358.9" stroke="#000" stroke-width="1.3"/>
<text x="42.8" y="372.5" font-size="11.2" text-anchor="middle" fill="#111">10</text>
<text x="49.2" y="367.8" font-size="7.2" font-weight="bold" fill="#111">0</text>
<text x="87.4" y="372.5" font-size="11.2" text-anchor="middle" fill="#111">10</text>
<text x="93.8" y="367.8" font-size="7.2" font-weight="bold" fill="#111">1</text>
<text x="132" y="372.5" font-size="11.2" text-anchor="middle" fill="#111">10</text>
<text x="138.4" y="367.8" font-size="7.2" font-weight="bold" fill="#111">2</text>
<text x="176.6" y="372.5" font-size="11.2" text-anchor="middle" fill="#111">10</text>
<text x="183" y="367.8" font-size="7.2" font-weight="bold" fill="#111">3</text>
<text x="221.2" y="372.5" font-size="11.2" text-anchor="middle" fill="#111">10</text>
<path d="M230,363.3 l2.2,2.8" stroke="#111" stroke-width="1.3" fill="none"/>
<text transform="translate(36.6,255.8) rotate(-90)" font-size="12" text-anchor="middle" fill="#111">32</text>
<text transform="translate(36.6,358.9) rotate(-90)" font-size="12" text-anchor="middle" fill="#111">0</text>
<text transform="translate(27.3,307.6) rotate(-90)" font-size="12.3" text-anchor="middle" fill="#111">Events</text>
<path d="M141.8,279.8 V293.8 M175.3,279.8 V293.8 M141.8,286.8 H175.3" stroke="#000" stroke-width="1.35" fill="none"/>
<text x="64.92" y="252.5" font-size="23" textLength="108.17" lengthAdjust="spacingAndGlyphs">SCF+IFN-</text>
<path d="M173.2,244 C174,241.6 176.2,241.4 177.2,243.8 L180,250.5" fill="none" stroke="#000" stroke-width="1.5"/>
<path d="M184.6,241.4 L180,250.5" fill="none" stroke="#000" stroke-width="1.7"/>
<path d="M179.9,249.8 C181.6,253 181.5,258.6 179.4,258.8 C177.4,258.6 178.3,253.4 179.9,249.8 Z" fill="#000"/>
<text x="70.79" y="293.4" font-size="22.5" font-weight="bold" textLength="52.7" lengthAdjust="spacingAndGlyphs">3 div</text>
<text x="118.24" y="413.8" font-size="23" textLength="63.41" lengthAdjust="spacingAndGlyphs">CFSE</text>
<path d="M324.5,358.5L324.5,307L325.2,307L325.2,354.93L325.9,354.93L325.9,355.41L326.6,355.41L326.6,355.97L327.3,355.97L327.3,355.11L328,355.11L328,354.47L328.7,354.47L328.7,355.35L329.4,355.35L329.4,354.47L330.1,354.47L330.1,354.64L330.8,354.64L330.8,355.1L331.5,355.1L331.5,356.21L332.2,356.21L332.2,353.84L332.9,353.84L332.9,355.2L333.6,355.2L333.6,352.74L334.3,352.74L334.3,352.35L335,352.35L335,352.79L335.7,352.79L335.7,347.92L336.4,347.92L336.4,352.42L337.1,352.42L337.1,352.23L337.8,352.23L337.8,354.06L338.5,354.06L338.5,351.23L339.2,351.23L339.2,351.4L339.9,351.4L339.9,349.78L340.6,349.78L340.6,346.59L341.3,346.59L341.3,344.6L342,344.6L342,351.3L342.7,351.3L342.7,347.59L343.4,347.59L343.4,350.04L344.1,350.04L344.1,348.65L344.8,348.65L344.8,347.03L345.5,347.03L345.5,348.35L346.2,348.35L346.2,348.49L346.9,348.49L346.9,347.82L347.6,347.82L347.6,344.87L348.3,344.87L348.3,345.91L349,345.91L349,349.01L349.7,349.01L349.7,345L350.4,345L350.4,341.34L351.1,341.34L351.1,348.12L351.8,348.12L351.8,346.45L352.5,346.45L352.5,344.2L353.2,344.2L353.2,341.87L353.9,341.87L353.9,346.18L354.6,346.18L354.6,343.79L355.3,343.79L355.3,340.51L356,340.51L356,341.11L356.7,341.11L356.7,343.71L357.4,343.71L357.4,337.48L358.1,337.48L358.1,340.06L358.8,340.06L358.8,341.24L359.5,341.24L359.5,342.68L360.2,342.68L360.2,340.48L360.9,340.48L360.9,336.96L361.6,336.96L361.6,336.24L362.3,336.24L362.3,336.1L363,336.1L363,336.01L363.7,336.01L363.7,336.46L364.4,336.46L364.4,334.95L365.1,334.95L365.1,340.92L365.8,340.92L365.8,338.43L366.5,338.43L366.5,334.76L367.2,334.76L367.2,329.6L367.9,329.6L367.9,334.7L368.6,334.7L368.6,338.21L369.3,338.21L369.3,333.41L370,333.41L370,335.18L370.7,335.18L370.7,337.07L371.4,337.07L371.4,336.13L372.1,336.13L372.1,336.51L372.8,336.51L372.8,338.67L373.5,338.67L373.5,336.54L374.2,336.54L374.2,337.55L374.9,337.55L374.9,335.16L375.6,335.16L375.6,340.26L376.3,340.26L376.3,340.32L377,340.32L377,338.97L377.7,338.97L377.7,340.24L378.4,340.24L378.4,340.09L379.1,340.09L379.1,337.14L379.8,337.14L379.8,333.56L380.5,333.56L380.5,339.42L381.2,339.42L381.2,336.87L381.9,336.87L381.9,337.16L382.6,337.16L382.6,335.25L383.3,335.25L383.3,337.14L384,337.14L384,339.97L384.7,339.97L384.7,337.76L385.4,337.76L385.4,333.07L386.1,333.07L386.1,333.01L386.8,333.01L386.8,336.47L387.5,336.47L387.5,340.23L388.2,340.23L388.2,336.13L388.9,336.13L388.9,338.37L389.6,338.37L389.6,335.03L390.3,335.03L390.3,332.89L391,332.89L391,334.76L391.7,334.76L391.7,332.48L392.4,332.48L392.4,330.88L393.1,330.88L393.1,329.67L393.8,329.67L393.8,330.96L394.5,330.96L394.5,322.3L395.2,322.3L395.2,325.71L395.9,325.71L395.9,323.61L396.6,323.61L396.6,317.62L397.3,317.62L397.3,317.43L398,317.43L398,317.25L398.7,317.25L398.7,315.08L399.4,315.08L399.4,311.36L400.1,311.36L400.1,310.23L400.8,310.23L400.8,309.7L401.5,309.7L401.5,312.08L402.2,312.08L402.2,309.52L402.9,309.52L402.9,310.82L403.6,310.82L403.6,308.09L404.3,308.09L404.3,305.31L405,305.31L405,304.7L405.7,304.7L405.7,304.31L406.4,304.31L406.4,307.37L407.1,307.37L407.1,301.35L407.8,301.35L407.8,303.45L408.5,303.45L408.5,303.36L409.2,303.36L409.2,303.41L409.9,303.41L409.9,303.49L410.6,303.49L410.6,304.15L411.3,304.15L411.3,304.16L412,304.16L412,306.61L412.7,306.61L412.7,307.84L413.4,307.84L413.4,306.64L414.1,306.64L414.1,305.35L414.8,305.35L414.8,300.83L415.5,300.83L415.5,299.02L416.2,299.02L416.2,298.72L416.9,298.72L416.9,299.3L417.6,299.3L417.6,290.82L418.3,290.82L418.3,293.52L419,293.52L419,290.4L419.7,290.4L419.7,290.28L420.4,290.28L420.4,285.62L421.1,285.62L421.1,283.34L421.8,283.34L421.8,283.2L422.5,283.2L422.5,284.63L423.2,284.63L423.2,281.41L423.9,281.41L423.9,278.92L424.6,278.92L424.6,271.5L425.3,271.5L425.3,274L426,274L426,283.1L426.7,283.1L426.7,276.91L427.4,276.91L427.4,280.54L428.1,280.54L428.1,279.76L428.8,279.76L428.8,279.72L429.5,279.72L429.5,280.36L430.2,280.36L430.2,282.94L430.9,282.94L430.9,287.89L431.6,287.89L431.6,289.62L432.3,289.62L432.3,291.63L433,291.63L433,294.86L433.7,294.86L433.7,297.37L434.4,297.37L434.4,299.02L435.1,299.02L435.1,303.79L435.8,303.79L435.8,306.68L436.5,306.68L436.5,309.85L437.2,309.85L437.2,314.78L437.9,314.78L437.9,321.51L438.6,321.51L438.6,321.62L439.3,321.62L439.3,327.43L440,327.43L440,334.58L440.7,334.58L440.7,332.52L441.4,332.52L441.4,335.41L442.1,335.41L442.1,338.61L442.8,338.61L442.8,342.41L443.5,342.41L443.5,342.82L444.2,342.82L444.2,343.73L444.9,343.73L444.9,346.01L445.6,346.01L445.6,348.08L446.3,348.08L446.3,357.19L447,357.19L447,354.75L447.7,354.75L447.7,354.4L448.4,354.4L448.4,356.86L449.1,356.86L449.1,356.94L449.8,356.94L449.8,357.57L450.5,357.57L450.5,357.77L451.2,357.77L451.2,358.3L451.9,358.3L451.9,358.02L452.6,358.02L452,358.5 Z" fill="#2d2d2d" stroke="#151515" stroke-width="0.5"/>
<path d="M335.5,356 L336,355.72 L336.5,355.44 L337,355.15 L337.5,354.86 L338,354.58 L338.5,354.3 L339,354.02 L339.5,353.76 L340,353.51 L340.5,353.27 L341,353.04 L341.5,352.84 L342,352.64 L342.5,352.47 L343,352.31 L343.5,352.17 L344,352.05 L344.5,351.94 L345,351.85 L345.5,351.77 L346,351.71 L346.5,351.65 L347,351.61 L347.5,351.58 L348,351.55 L348.5,351.53 L349,351.52 L349.5,351.51 L350,351.5 L350.5,351.5 L351,351.5 L351.5,351.5 L352,351.5 L352.5,351.5 L353,351.5 L353.5,351.5 L354,351.5 L354.5,351.51 L355,351.52 L355.5,351.53 L356,351.55 L356.5,351.58 L357,351.61 L357.5,351.65 L358,351.71 L358.5,351.77 L359,351.85 L359.5,351.94 L360,352.05 L360.5,352.17 L361,352.31 L361.5,352.47 L362,352.64 L362.5,352.84 L363,353.04 L363.5,353.27 L364,353.51 L364.5,353.76 L365,354.02 L365.5,354.3 L366,354.58 L366.5,354.86 L367,355.15 L367.5,355.44 L368,355.72 L368.5,356" fill="none" stroke="#fff" stroke-width="1.85"/>
<path d="M354,356 L354.5,355.62 L355.01,355.22 L355.51,354.8 L356.01,354.37 L356.51,353.91 L357.02,353.45 L357.52,352.99 L358.02,352.53 L358.53,352.07 L359.03,351.63 L359.53,351.2 L360.04,350.78 L360.54,350.39 L361.04,350.03 L361.54,349.68 L362.05,349.37 L362.55,349.08 L363.05,348.82 L363.56,348.59 L364.06,348.39 L364.56,348.21 L365.07,348.06 L365.57,347.94 L366.07,347.83 L366.57,347.74 L367.08,347.67 L367.58,347.62 L368.08,347.58 L368.59,347.55 L369.09,347.53 L369.59,347.51 L370.1,347.51 L370.6,347.5 L371.1,347.5 L371.6,347.5 L372.11,347.5 L372.61,347.5 L373.11,347.5 L373.62,347.51 L374.12,347.51 L374.62,347.53 L375.13,347.56 L375.63,347.6 L376.13,347.65 L376.63,347.73 L377.14,347.82 L377.64,347.94 L378.14,348.09 L378.65,348.28 L379.15,348.49 L379.65,348.74 L380.16,349.03 L380.66,349.35 L381.16,349.72 L381.66,350.11 L382.17,350.54 L382.67,351 L383.17,351.49 L383.68,352 L384.18,352.52 L384.68,353.05 L385.19,353.58 L385.69,354.1 L386.19,354.61 L386.69,355.1 L387.2,355.57 L387.7,356" fill="none" stroke="#fff" stroke-width="1.85"/>
<path d="M377,356 L377.5,355.41 L378,354.74 L378.5,353.99 L379,353.18 L379.5,352.31 L380,351.4 L380.5,350.46 L381,349.5 L381.5,348.54 L382,347.59 L382.5,346.68 L383,345.8 L383.5,344.97 L384,344.21 L384.5,343.51 L385,342.88 L385.5,342.32 L386,341.84 L386.5,341.42 L387,341.08 L387.5,340.79 L388,340.56 L388.5,340.39 L389,340.25 L389.5,340.15 L390,340.09 L390.5,340.04 L391,340.02 L391.5,340.01 L392,340 L392.5,340 L393,340 L393.5,340 L394,340.01 L394.5,340.02 L395,340.05 L395.5,340.1 L396,340.18 L396.5,340.29 L397,340.46 L397.5,340.67 L398,340.95 L398.5,341.3 L399,341.72 L399.5,342.22 L400,342.81 L400.5,343.48 L401,344.23 L401.5,345.06 L402,345.95 L402.5,346.9 L403,347.9 L403.5,348.92 L404,349.96 L404.5,350.98 L405,351.98 L405.5,352.93 L406,353.81 L406.5,354.63 L407,355.36 L407.5,356" fill="none" stroke="#fff" stroke-width="1.85"/>
<path d="M398.5,356 L399,354.9 L399.5,353.49 L400,351.74 L400.5,349.65 L401,347.22 L401.5,344.5 L402,341.54 L402.5,338.41 L403,335.2 L403.5,331.99 L404,328.86 L404.5,325.9 L405,323.16 L405.5,320.69 L406,318.52 L406.5,316.67 L407,315.13 L407.5,313.9 L408,312.94 L408.5,312.22 L409,311.72 L409.5,311.38 L410,311.17 L410.5,311.06 L411,311.02 L411.5,311 L412,311 L412.5,311 L413,311 L413.5,311 L414,311.01 L414.5,311.02 L415,311.04 L415.5,311.07 L416,311.13 L416.5,311.2 L417,311.31 L417.5,311.46 L418,311.64 L418.5,311.88 L419,312.18 L419.5,312.56 L420,313 L420.5,313.54 L421,314.17 L421.5,314.9 L422,315.74 L422.5,316.7 L423,317.78 L423.5,318.98 L424,320.31 L424.5,321.76 L425,323.33 L425.5,325.01 L426,326.79 L426.5,328.67 L427,330.62 L427.5,332.62 L428,334.66 L428.5,336.72 L429,338.77 L429.5,340.79 L430,342.76 L430.5,344.65 L431,346.44 L431.5,348.13 L432,349.68 L432.5,351.09 L433,352.36 L433.5,353.48 L434,354.46 L434.5,355.3 L435,356" fill="none" stroke="#fff" stroke-width="1.85"/>
<path d="M411.5,356 L412,354.95 L412.5,353.59 L413,351.88 L413.5,349.81 L414,347.35 L414.5,344.5 L415,341.31 L415.5,337.79 L416,334.03 L416.5,330.07 L417,326.02 L417.5,321.95 L418,317.94 L418.5,314.08 L419,310.44 L419.5,307.07 L420,304.01 L420.5,301.29 L421,298.92 L421.5,296.91 L422,295.24 L422.5,293.88 L423,292.82 L423.5,292.02 L424,291.43 L424.5,291.02 L425,290.76 L425.5,290.61 L426,290.54 L426.5,290.51 L427,290.5 L427.5,290.5 L428,290.51 L428.5,290.55 L429,290.62 L429.5,290.76 L430,290.96 L430.5,291.23 L431,291.59 L431.5,292.06 L432,292.62 L432.5,293.3 L433,294.1 L433.5,295.03 L434,296.08 L434.5,297.26 L435,298.57 L435.5,300.01 L436,301.58 L436.5,303.27 L437,305.07 L437.5,306.98 L438,309 L438.5,311.09 L439,313.27 L439.5,315.5 L440,317.78 L440.5,320.1 L441,322.43 L441.5,324.77 L442,327.09 L442.5,329.39 L443,331.64 L443.5,333.83 L444,335.96 L444.5,338 L445,339.95 L445.5,341.81 L446,343.56 L446.5,345.2 L447,346.72 L447.5,348.13 L448,349.43 L448.5,350.61 L449,351.67 L449.5,352.63 L450,353.49 L450.5,354.25 L451,354.91 L451.5,355.5 L452,356" fill="none" stroke="#fff" stroke-width="1.85"/>
<line x1="324.2" y1="254.1" x2="324.2" y2="359.1" stroke="#000" stroke-width="1.4"/>
<path d="M321.2,358.5 H324.2 M321.2,332.52 H324.2 M321.2,306.55 H324.2 M321.2,280.57 H324.2 M321.2,254.6 H324.2 M324.2,358.5 v3 M337.63,358.5 v2 M345.48,358.5 v2 M351.05,358.5 v2 M355.37,358.5 v2 M358.91,358.5 v2 M361.89,358.5 v2 M364.48,358.5 v2 M366.76,358.5 v2 M368.8,358.5 v3 M382.23,358.5 v2 M390.08,358.5 v2 M395.65,358.5 v2 M399.97,358.5 v2 M403.51,358.5 v2 M406.49,358.5 v2 M409.08,358.5 v2 M411.36,358.5 v2 M413.4,358.5 v3 M426.83,358.5 v2 M434.68,358.5 v2 M440.25,358.5 v2 M444.57,358.5 v2 M448.11,358.5 v2 M451.09,358.5 v2 M453.68,358.5 v2 M455.96,358.5 v2 M458,358.5 v3 M471.43,358.5 v2 M479.28,358.5 v2 M484.85,358.5 v2 M489.17,358.5 v2 M492.71,358.5 v2 M495.69,358.5 v2 M498.28,358.5 v2 M500.56,358.5 v2 M502.6,358.5 v3" stroke="#000" stroke-width="0.9" fill="none"/>
<line x1="323.6" y1="358.5" x2="502.6" y2="358.5" stroke="#000" stroke-width="1.3"/>
<text x="324.2" y="372.1" font-size="11.2" text-anchor="middle" fill="#111">10</text>
<text x="330.6" y="367.4" font-size="7.2" font-weight="bold" fill="#111">0</text>
<text x="368.8" y="372.1" font-size="11.2" text-anchor="middle" fill="#111">10</text>
<text x="375.2" y="367.4" font-size="7.2" font-weight="bold" fill="#111">1</text>
<text x="413.4" y="372.1" font-size="11.2" text-anchor="middle" fill="#111">10</text>
<text x="419.8" y="367.4" font-size="7.2" font-weight="bold" fill="#111">2</text>
<text x="458" y="372.1" font-size="11.2" text-anchor="middle" fill="#111">10</text>
<text x="464.4" y="367.4" font-size="7.2" font-weight="bold" fill="#111">3</text>
<text x="502.6" y="372.1" font-size="11.2" text-anchor="middle" fill="#111">10</text>
<path d="M511.4,362.9 l2.2,2.8" stroke="#111" stroke-width="1.3" fill="none"/>
<text transform="translate(318,255.1) rotate(-90)" font-size="12" text-anchor="middle" fill="#111">64</text>
<text transform="translate(318,358.5) rotate(-90)" font-size="12" text-anchor="middle" fill="#111">0</text>
<text transform="translate(308.7,307.05) rotate(-90)" font-size="12.3" text-anchor="middle" fill="#111">Events</text>
<path d="M410.8,280.2 V294.2 M444.9,280.2 V294.2 M410.8,287.2 H444.9" stroke="#000" stroke-width="1.35" fill="none"/>
<path d="M434.5,295 L437,302 L438.6,310" fill="none" stroke="#444" stroke-width="0.85" stroke-dasharray="1.2,2.6"/>
<text x="354.92" y="258.75" font-size="23" textLength="102.72" lengthAdjust="spacingAndGlyphs">SCF+IL-5</text>
<text x="343.97" y="293.8" font-size="22.5" font-weight="bold" textLength="52.62" lengthAdjust="spacingAndGlyphs">4 div</text>
<text x="394.04" y="414.3" font-size="23" textLength="63.21" lengthAdjust="spacingAndGlyphs">CFSE</text>
<text x="184.11" y="42.8" font-size="18.8" textLength="57.96" lengthAdjust="spacingAndGlyphs">Parent</text>
<text x="184.41" y="66.1" font-size="18.8" textLength="91.64" lengthAdjust="spacingAndGlyphs">population</text>
<path d="M171.4,53.6 L168.6,61" stroke="#000" stroke-width="1.6"/>
<path d="M161.2,57.9 L176.4,62.6 L164.2,74.6 Z" fill="#000"/>
<path d="M82.6,481.5 V696.8 M76.1,690.8 H439.8" stroke="#666" stroke-width="1.3" fill="none"/>
<path d="M76.1,648.94 H82.6 M76.1,607.08 H82.6 M76.1,565.22 H82.6 M76.1,523.36 H82.6 M76.1,481.5 H82.6 M127.25,690.8 V696.8 M171.9,690.8 V696.8 M216.55,690.8 V696.8 M261.2,690.8 V696.8 M305.85,690.8 V696.8 M350.5,690.8 V696.8 M395.15,690.8 V696.8 M439.8,690.8 V696.8" stroke="#666" stroke-width="1.3" fill="none"/>
<text x="55.48" y="697.4" font-size="18.5" textLength="10.65" lengthAdjust="spacingAndGlyphs">0</text>
<text x="44.86" y="655.54" font-size="18.5" textLength="21.3" lengthAdjust="spacingAndGlyphs">20</text>
<text x="44.86" y="613.68" font-size="18.5" textLength="21.3" lengthAdjust="spacingAndGlyphs">40</text>
<text x="44.86" y="571.82" font-size="18.5" textLength="21.3" lengthAdjust="spacingAndGlyphs">60</text>
<text x="44.86" y="529.96" font-size="18.5" textLength="21.3" lengthAdjust="spacingAndGlyphs">80</text>
<text x="34.24" y="488.1" font-size="18.5" textLength="31.95" lengthAdjust="spacingAndGlyphs">100</text>
<text x="99.39" y="727.7" font-size="18.5" textLength="10.65" lengthAdjust="spacingAndGlyphs">1</text>
<text x="144.26" y="727.7" font-size="18.5" textLength="10.65" lengthAdjust="spacingAndGlyphs">2</text>
<text x="188.99" y="727.7" font-size="18.5" textLength="10.65" lengthAdjust="spacingAndGlyphs">3</text>
<text x="233.64" y="727.7" font-size="18.5" textLength="10.65" lengthAdjust="spacingAndGlyphs">4</text>
<text x="278.21" y="727.7" font-size="18.5" textLength="10.65" lengthAdjust="spacingAndGlyphs">5</text>
<text x="322.79" y="727.7" font-size="18.5" textLength="10.65" lengthAdjust="spacingAndGlyphs">6</text>
<text x="367.51" y="727.7" font-size="18.5" textLength="10.65" lengthAdjust="spacingAndGlyphs">7</text>
<text x="412.16" y="727.7" font-size="18.5" textLength="10.65" lengthAdjust="spacingAndGlyphs">8</text>
<text x="188.11" y="763.9" font-size="19.5" font-weight="bold" textLength="147.14" lengthAdjust="spacingAndGlyphs">week in culture</text>
<text transform="translate(16.8,670.15) rotate(-90)" x="-0.48" y="0" font-size="19.5" font-weight="bold" textLength="167.98" lengthAdjust="spacingAndGlyphs">% apoptotic cells</text>
<path d="M149.57,606.24 V621.73 M146.57,606.24 h6 M146.57,621.73 h6" stroke="#000" stroke-width="1" fill="none"/>
<path d="M194.22,594.94 V610.01 M191.22,594.94 h6 M191.22,610.01 h6" stroke="#000" stroke-width="1" fill="none"/>
<path d="M283.52,619.43 V631.15 M280.52,619.43 h6 M280.52,631.15 h6" stroke="#000" stroke-width="1" fill="none"/>
<path d="M328.17,608.13 V628.22 M325.17,608.13 h6 M325.17,628.22 h6" stroke="#000" stroke-width="1" fill="none"/>
<path d="M372.82,632.41 V643.29 M369.82,632.41 h6 M369.82,643.29 h6" stroke="#000" stroke-width="1" fill="none"/>
<path d="M417.48,670.29 V678.66 M414.48,670.29 h6 M414.48,678.66 h6" stroke="#000" stroke-width="1" fill="none"/>
<path d="M149.57,584.89 V595.78 M146.57,584.89 h6 M146.57,595.78 h6" stroke="#000" stroke-width="1" fill="none"/>
<path d="M194.22,520.22 V535.29 M191.22,520.22 h6 M191.22,535.29 h6" stroke="#000" stroke-width="1" fill="none"/>
<path d="M238.88,509.96 V523.78 M235.88,509.96 h6 M235.88,523.78 h6" stroke="#000" stroke-width="1" fill="none"/>
<path d="M417.48,666.31 V682.22 M414.48,666.31 h6 M414.48,682.22 h6" stroke="#000" stroke-width="1" fill="none"/>
<path d="M238.88,586.15 V604.99 M235.88,586.15 h6 M235.88,604.99 h6" stroke="#000" stroke-width="1" fill="none"/>
<path d="M283.52,623.2 V641.2 M280.52,623.2 h6 M280.52,641.2 h6" stroke="#000" stroke-width="1" fill="none"/>
<path d="M328.17,645.38 V661.71 M325.17,645.38 h6 M325.17,661.71 h6" stroke="#000" stroke-width="1" fill="none"/>
<path d="M194.22,552.66 V558.94 M191.22,552.66 h6 M191.22,558.94 h6" stroke="#000" stroke-width="1" fill="none"/>
<path d="M372.82,643.71 V662.54 M369.82,643.71 h6 M369.82,662.54 h6" stroke="#000" stroke-width="1" fill="none"/>
<polyline points="104.92,680.33 149.57,613.99 194.22,602.48 238.88,605.41 283.52,625.29 328.17,618.17 372.82,637.85 417.48,674.47" fill="none" stroke="#000" stroke-width="1.2"/>
<polyline points="104.92,679.29 149.57,590.34 194.22,527.76 238.88,516.87 283.52,571.92 328.17,608.13 372.82,667.78 417.48,674.27" fill="none" stroke="#8f8f8f" stroke-width="1.2"/>
<polyline points="104.92,680.33 149.57,592.43 194.22,533.82 238.88,595.57 283.52,632.2 328.17,653.54 372.82,653.13 417.48,678.66" fill="none" stroke="#000" stroke-width="1.2"/>
<polyline points="104.92,676.67 149.57,603.31 194.22,555.8 238.88,556.43 283.52,598.29 328.17,646.43 372.82,653.13 417.48,688.29" fill="none" stroke="#000" stroke-width="1.2"/>
<path d="M104.92,675.43 l4.9,4.9 l-4.9,4.9 l-4.9,-4.9 Z" fill="#000"/>
<path d="M149.57,609.09 l4.9,4.9 l-4.9,4.9 l-4.9,-4.9 Z" fill="#000"/>
<path d="M194.22,597.58 l4.9,4.9 l-4.9,4.9 l-4.9,-4.9 Z" fill="#000"/>
<path d="M238.88,600.51 l4.9,4.9 l-4.9,4.9 l-4.9,-4.9 Z" fill="#000"/>
<path d="M283.52,620.39 l4.9,4.9 l-4.9,4.9 l-4.9,-4.9 Z" fill="#000"/>
<path d="M328.17,613.27 l4.9,4.9 l-4.9,4.9 l-4.9,-4.9 Z" fill="#000"/>
<path d="M372.82,632.95 l4.9,4.9 l-4.9,4.9 l-4.9,-4.9 Z" fill="#000"/>
<path d="M417.48,669.57 l4.9,4.9 l-4.9,4.9 l-4.9,-4.9 Z" fill="#000"/>
<rect x="100.62" y="674.99" width="8.6" height="8.6" fill="#808080" stroke="#6a6a6a" stroke-width="0.6"/>
<rect x="145.27" y="586.04" width="8.6" height="8.6" fill="#808080" stroke="#6a6a6a" stroke-width="0.6"/>
<rect x="189.92" y="523.46" width="8.6" height="8.6" fill="#808080" stroke="#6a6a6a" stroke-width="0.6"/>
<rect x="234.57" y="512.57" width="8.6" height="8.6" fill="#808080" stroke="#6a6a6a" stroke-width="0.6"/>
<rect x="279.22" y="567.62" width="8.6" height="8.6" fill="#808080" stroke="#6a6a6a" stroke-width="0.6"/>
<rect x="323.87" y="603.83" width="8.6" height="8.6" fill="#808080" stroke="#6a6a6a" stroke-width="0.6"/>
<rect x="368.52" y="663.48" width="8.6" height="8.6" fill="#808080" stroke="#6a6a6a" stroke-width="0.6"/>
<rect x="413.18" y="669.97" width="8.6" height="8.6" fill="#808080" stroke="#6a6a6a" stroke-width="0.6"/>
<path d="M104.92,675.03 l4.9,9 h-9.8 Z" fill="#000"/>
<path d="M149.57,587.13 l4.9,9 h-9.8 Z" fill="#000"/>
<path d="M194.22,528.52 l4.9,9 h-9.8 Z" fill="#000"/>
<path d="M238.88,590.27 l4.9,9 h-9.8 Z" fill="#000"/>
<path d="M283.52,626.9 l4.9,9 h-9.8 Z" fill="#000"/>
<path d="M328.17,648.24 l4.9,9 h-9.8 Z" fill="#000"/>
<path d="M372.82,647.83 l4.9,9 h-9.8 Z" fill="#000"/>
<path d="M417.48,673.36 l4.9,9 h-9.8 Z" fill="#000"/>
<rect x="101.02" y="672.77" width="7.8" height="7.8" fill="#fff" stroke="#000" stroke-width="1.2"/>
<rect x="145.67" y="599.41" width="7.8" height="7.8" fill="#fff" stroke="#000" stroke-width="1.2"/>
<rect x="190.32" y="551.9" width="7.8" height="7.8" fill="#fff" stroke="#000" stroke-width="1.2"/>
<rect x="234.97" y="552.53" width="7.8" height="7.8" fill="#fff" stroke="#000" stroke-width="1.2"/>
<rect x="279.62" y="594.39" width="7.8" height="7.8" fill="#fff" stroke="#000" stroke-width="1.2"/>
<rect x="324.27" y="642.53" width="7.8" height="7.8" fill="#fff" stroke="#000" stroke-width="1.2"/>
<rect x="368.92" y="649.23" width="7.8" height="7.8" fill="#fff" stroke="#000" stroke-width="1.2"/>
<rect x="413.58" y="684.39" width="7.8" height="7.8" fill="#fff" stroke="#000" stroke-width="1.2"/>
<rect x="312.5" y="469.4" width="121.8" height="111.2" fill="#fff" stroke="#666" stroke-width="1.2"/>
<line x1="318.7" y1="485.2" x2="342.9" y2="485.2" stroke="#000" stroke-width="1.2"/>
<path d="M330.6,480.3 l4.9,4.9 l-4.9,4.9 l-4.9,-4.9 Z" fill="#000"/>
<text x="348.35" y="491" font-size="18.3" textLength="35.76" lengthAdjust="spacingAndGlyphs">SCF</text>
<line x1="318.7" y1="512.75" x2="342.9" y2="512.75" stroke="#8f8f8f" stroke-width="1.2"/>
<rect x="326.3" y="508.45" width="8.6" height="8.6" fill="#808080" stroke="#6a6a6a" stroke-width="0.6"/>
<text x="348.3" y="518.5" font-size="18.3" textLength="80.33" lengthAdjust="spacingAndGlyphs">SCF+IFN</text>
<line x1="318.7" y1="540.3" x2="342.9" y2="540.3" stroke="#000" stroke-width="1.2"/>
<path d="M330.6,535 l4.9,9 h-9.8 Z" fill="#000"/>
<text x="348.31" y="546" font-size="18.3" textLength="81.22" lengthAdjust="spacingAndGlyphs">SCF+IL-4</text>
<line x1="318.7" y1="567.85" x2="342.9" y2="567.85" stroke="#000" stroke-width="1.2"/>
<rect x="326.7" y="563.95" width="7.8" height="7.8" fill="#fff" stroke="#000" stroke-width="1.2"/>
<text x="348.31" y="573.5" font-size="18.3" textLength="82.14" lengthAdjust="spacingAndGlyphs">SCF+IL-5</text>
</svg>
</body></html>
